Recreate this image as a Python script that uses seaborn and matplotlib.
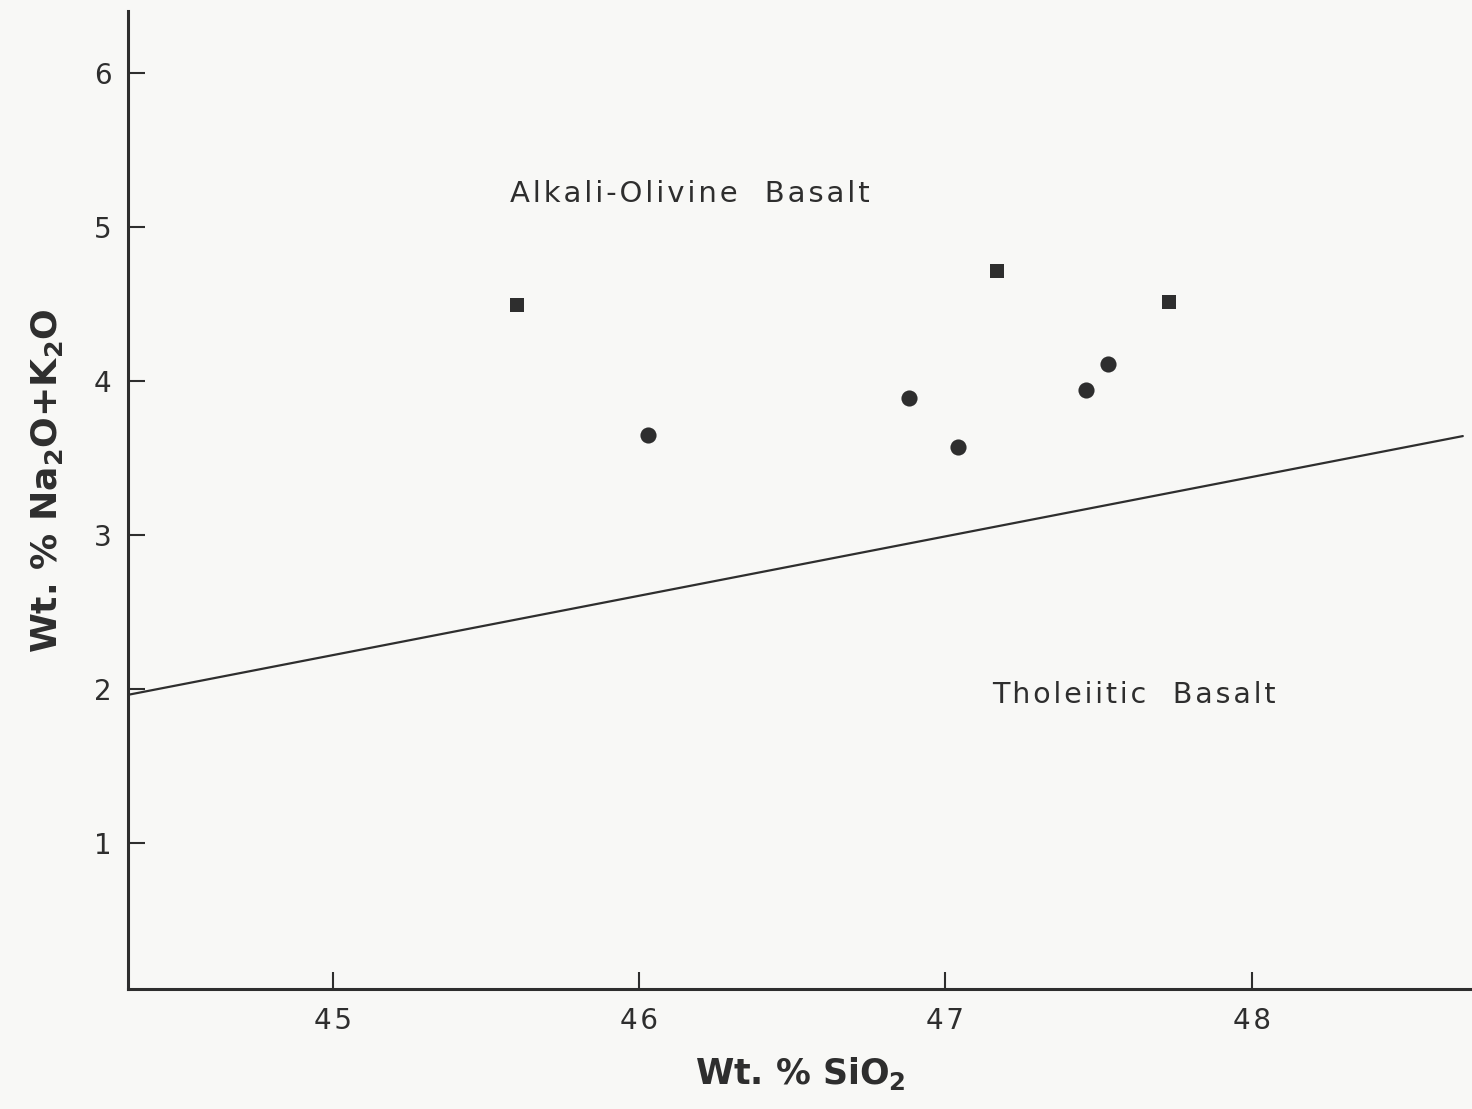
import numpy as np
import pandas as pd
import matplotlib
matplotlib.use("Agg")
import matplotlib.pyplot as plt
import seaborn as sns

# data
square_sio2=[45.60,47.17,47.73]
square_alk=[4.49,4.71,4.51]
circle_sio2=[46.03,46.88,47.04,47.46,47.53]
circle_alk=[3.65,3.89,3.57,3.94,4.11]
divide_sio2=[44.33,48.69]
divide_alk=[1.96,3.64]
x_ticks=[45,46,47,48]
y_ticks=[1,2,3,4,5,6]
alkali_label="Alkali-Olivine  Basalt"
thol_label="Tholeiitic  Basalt"

sns.set_theme(style="ticks")
plt.rcParams["font.family"]=["DejaVu Sans"]
plt.rcParams["mathtext.default"]="regular"
ink="#2e2e2e"
paper="#f8f8f6"
hs="\u200a"

def spaced(t):
    # lettering in the scan is widely spaced
    return hs.join(t)

fig=plt.figure(figsize=(14.72,11.09),dpi=100,facecolor=paper)
ax=fig.add_axes([128/1472,(1109-989)/1109,1-128/1472,(989-11)/1109])
ax.set_facecolor(paper)

sq=pd.DataFrame({"SiO2":square_sio2,"alk":square_alk})
ci=pd.DataFrame({"SiO2":circle_sio2,"alk":circle_alk})
dv=pd.DataFrame({"SiO2":divide_sio2,"alk":divide_alk})

sns.lineplot(data=dv,x="SiO2",y="alk",ax=ax,color=ink,linewidth=1.6)
sns.scatterplot(data=sq,x="SiO2",y="alk",ax=ax,marker="s",s=105,color=ink,edgecolor=ink,linewidth=0)
sns.scatterplot(data=ci,x="SiO2",y="alk",ax=ax,marker="o",s=135,color=ink,edgecolor=ink,linewidth=0)

ax.set_xlim(44.33,48.72)
ax.set_ylim(0.05,6.40)
ax.set_xticks(x_ticks)
ax.set_xticklabels([spaced(str(t)) for t in x_ticks])
ax.set_yticks(y_ticks)
ax.tick_params(direction="in",length=12,width=1.5,color=ink,labelcolor=ink,labelsize=20)
ax.tick_params(axis="x",pad=13)
ax.tick_params(axis="y",pad=12)
for s in ["top","right"]:
    ax.spines[s].set_visible(False)
for s in ["left","bottom"]:
    ax.spines[s].set_linewidth(2.2)
    ax.spines[s].set_color(ink)

xlab="Wt. % SiO$_2$"
ylab="Wt. % Na$_2$O+K$_2$O"
ax.set_xlabel(xlab,fontsize=25,fontweight="bold",color=ink,labelpad=14)
ax.set_ylabel(ylab,fontsize=26,fontweight="bold",color=ink)
ax.yaxis.set_label_coords(-0.047,0.52)

ax.text(45.578,5.21,spaced(alkali_label),fontsize=21,color=ink,va="center",ha="left")
ax.text(47.154,1.96,spaced(thol_label),fontsize=20.5,color=ink,va="center",ha="left")

fig.savefig("out.png",dpi=100,facecolor=paper)
